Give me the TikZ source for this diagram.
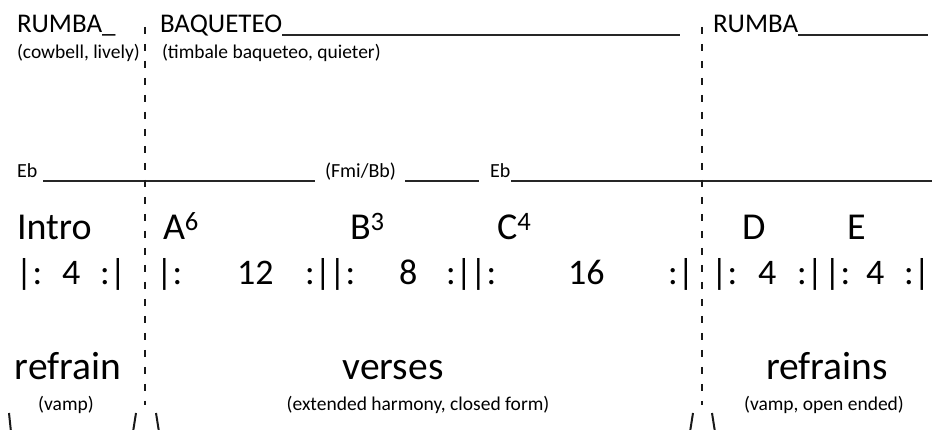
\documentclass[tikz,border=0pt]{standalone}
\usepackage{fontspec}
\setmainfont{Carlito}
\begin{document}
\begin{tikzpicture}[x=1pt,y=-1pt,
  t/.style={anchor=base west,inner sep=0pt,outer sep=0pt},
  tc/.style={anchor=base,inner sep=0pt,outer sep=0pt},
  head/.style={font=\fontsize{27}{27}\selectfont},
  note/.style={font=\fontsize{19.5}{19.5}\selectfont},
  chord/.style={font=\fontsize{20}{20}\selectfont},
  sect/.style={font=\fontsize{38}{38}\selectfont},
  rep/.style={font=\fontsize{36}{36}\selectfont},
  lbl/.style={font=\fontsize{39.5}{39.5}\selectfont},
  sub/.style={font=\fontsize{19.5}{19.5}\selectfont},
  uline/.style={line width=1.3pt,black!85},
  sepline/.style={line width=2.2pt,dash pattern=on 7pt off 10pt,black!90},
  stub/.style={line width=2pt,black!90}]
\useasboundingbox (0,0) rectangle (943,430);
% headings
\node[t,head] (rumba1) at (17,33) {RUMBA\_};
\node[t,note] (cow) at (17,59) {(cowbell, lively)};
\node[t,head] (baq) at (160,33) {BAQUETEO};
\coordinate (baqend) at (680,35);
\draw[uline] (baq.base east |- baqend) -- (baqend);
\node[t,note] (timb) at (162,59) {(timbale baqueteo, quieter)};
\node[t,head] (rumba2) at (713,33) {RUMBA};
\coordinate (rumend) at (928,35);
\draw[uline] (rumba2.base east |- rumend) -- (rumend);
% chord row
\node[t,chord] (eb1) at (17,178) {Eb};
\coordinate (l1a) at (43,181); \coordinate (l1b) at (315,181);
\draw[uline] (l1a) -- (l1b);
\node[t,chord] (fmi) at (325,178) {(Fmi/Bb)};
\coordinate (l2a) at (405,181); \coordinate (l2b) at (479,181);
\draw[uline] (l2a) -- (l2b);
\node[t,chord] (eb2) at (490,178) {Eb};
\coordinate (l3a) at (511,181); \coordinate (l3b) at (932,181);
\draw[uline] (l3a) -- (l3b);
% section letters
\node[t,sect] (intro) at (17,240) {Intro};
\node[t,sect] (A) at (163,240) {A\textsuperscript{6}};
\node[t,sect] (B) at (350,240) {B\textsuperscript{3}};
\node[t,sect] (C) at (497,240) {C\textsuperscript{4}};
\node[t,sect] (D) at (742,240) {D};
\node[t,sect] (E) at (847,240) {E};
% repeat row
\node[t,rep] (r1) at (16,285) {|:};
\node[t,rep] (r2) at (62,285) {4};
\node[t,rep] (r3) at (100,285) {:|};
\node[t,rep] (r4) at (156,285) {|:};
\node[t,rep] (r5) at (237,285) {12};
\node[t,rep] (r6) at (305,285) {:|};
\node[t,rep] (r7) at (329,285) {|:};
\node[t,rep] (r8) at (399,285) {8};
\node[t,rep] (r9) at (446,285) {:|};
\node[t,rep] (r10) at (470,285) {|:};
\node[t,rep] (r11) at (568,285) {16};
\node[t,rep] (r12) at (668,285) {:|};
\node[t,rep] (r13) at (711,285) {|:};
\node[t,rep] (r14) at (758,285) {4};
\node[t,rep] (r15) at (797,285) {:|};
\node[t,rep] (r16) at (824,285) {|:};
\node[t,rep] (r17) at (866,285) {4};
\node[t,rep] (r18) at (904,285) {:|};
% labels
\node[tc,lbl] (refrain) at (68,380) {refrain};
\node[tc,sub] (vamp) at (66,410) {(vamp)};
\node[tc,lbl] (verses) at (393,380) {verses};
\node[tc,sub] (ext) at (418,410) {(extended harmony, closed form)};
\node[tc,lbl] (refrains) at (827,380) {refrains};
\node[tc,sub] (vampo) at (824,410) {(vamp, open ended)};
% separators
\coordinate (s1t) at (145,27); \coordinate (s1b) at (145,405);
\coordinate (s2t) at (702,27); \coordinate (s2b) at (702,405);
\draw[sepline] (s1t) -- (s1b);
\draw[sepline] (s2t) -- (s2b);
% brace stubs
\coordinate (b1t) at (9,413); \coordinate (b1b) at (11,432);
\coordinate (b2t) at (136,413); \coordinate (b2b) at (133,432);
\coordinate (b3t) at (156,413); \coordinate (b3b) at (159,432);
\coordinate (b4t) at (693,413); \coordinate (b4b) at (690,432);
\coordinate (b5t) at (712,413); \coordinate (b5b) at (715,432);
\draw[stub] (b1t) -- (b1b);
\draw[stub] (b2t) -- (b2b);
\draw[stub] (b3t) -- (b3b);
\draw[stub] (b4t) -- (b4b);
\draw[stub] (b5t) -- (b5b);
\end{tikzpicture}
\end{document}
